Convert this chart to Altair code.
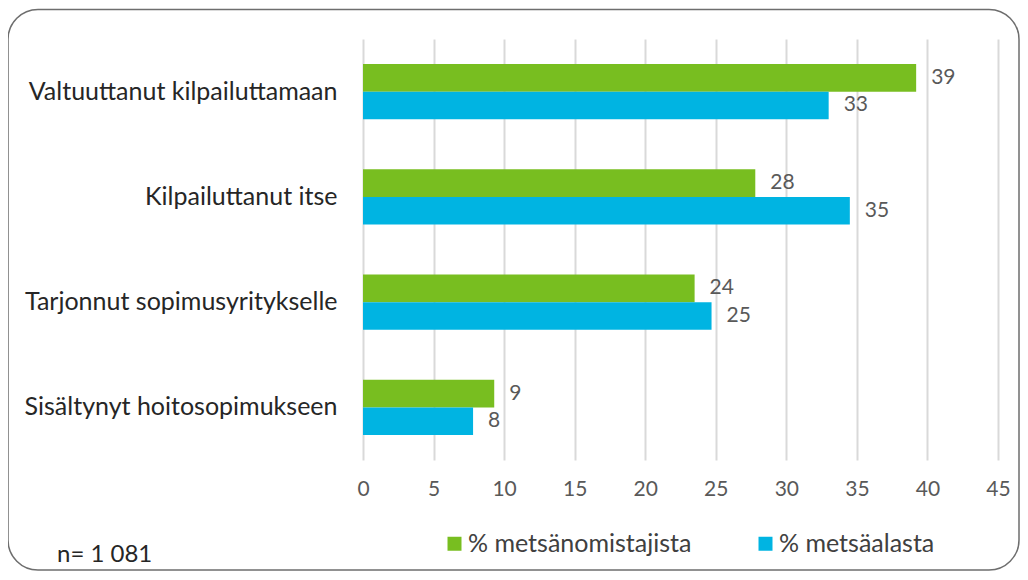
import altair as alt
import pandas as pd

categories = [
    "Valtuuttanut kilpailuttamaan",
    "Kilpailuttanut itse",
    "Tarjonnut sopimusyritykselle",
    "Sisältynyt hoitosopimukseen",
]
series = ["% metsänomistajista", "% metsäalasta"]
owners = [39.2, 27.8, 23.5, 9.3]
area = [33.0, 34.5, 24.7, 7.8]
x_ticks = [0, 5, 10, 15, 20, 25, 30, 35, 40, 45]
colors = ["#78BE20", "#00B4E2"]
note = "n= 1 081"

rows = []
for c, a, b in zip(categories, owners, area):
    rows.append({"cat": c, "series": series[0], "value": a})
    rows.append({"cat": c, "series": series[1], "value": b})
df = pd.DataFrame(rows)

FONT = "Lato"

y = alt.Y(
    "cat:N",
    sort=categories,
    scale=alt.Scale(paddingInner=0.476, paddingOuter=0.238),
    axis=alt.Axis(
        title=None, domain=False, ticks=False, labelPadding=26,
        labelFontSize=25, labelColor="#262626", labelFont=FONT, labelLimit=400,
    ),
)
yoff = alt.YOffset("series:N", sort=series)
x = alt.X(
    "value:Q",
    scale=alt.Scale(domain=[0, 45]),
    axis=alt.Axis(
        values=x_ticks, title=None, domain=False, ticks=False, grid=True,
        gridColor="#D9D9D9", gridWidth=2, labelPadding=18, labelFlush=False,
        labelFontSize=21, labelColor="#595959", labelFont=FONT,
    ),
)
color = alt.Color(
    "series:N",
    sort=series,
    scale=alt.Scale(domain=series, range=colors),
    legend=alt.Legend(
        orient="none", legendX=79, legendY=492, direction="horizontal",
        title=None, symbolType="square", symbolSize=196, symbolStrokeWidth=0,
        labelFontSize=25, labelFont=FONT, labelColor="#404040",
        labelOffset=1, columnPadding=61, labelLimit=400, padding=0,
    ),
)

bars = alt.Chart(df).mark_bar().encode(x=x, y=y, yOffset=yoff, color=color)
labels = alt.Chart(df).mark_text(
    align="left", baseline="middle", dx=15, fontSize=21, font=FONT, color="#595959"
).encode(x=x, y=y, yOffset=yoff, text=alt.Text("value:Q", format=".0f"))

one = pd.DataFrame({"k": [0]})
border = alt.Chart(one).mark_rect(
    cornerRadius=30, fillOpacity=0, fill="white", stroke="#6E6E6E", strokeWidth=1.5
).encode(x=alt.value(-355), x2=alt.value(656), y=alt.value(-29.5), y2=alt.value(531))
note_text = alt.Chart(one).mark_text(
    align="left", baseline="alphabetic", fontSize=24, font=FONT, color="#262626"
).encode(x=alt.value(-306), y=alt.value(523), text=alt.value(note))

chart = alt.layer(border, bars, labels, note_text).properties(
    width=635,
    height=421,
    padding={"left": 355, "top": 31, "right": 22, "bottom": 112},
    autosize=alt.AutoSizeParams(type="none"),
).configure_view(stroke=None)

chart.save("out.html", embed_options={"renderer": "svg", "actions": False})
